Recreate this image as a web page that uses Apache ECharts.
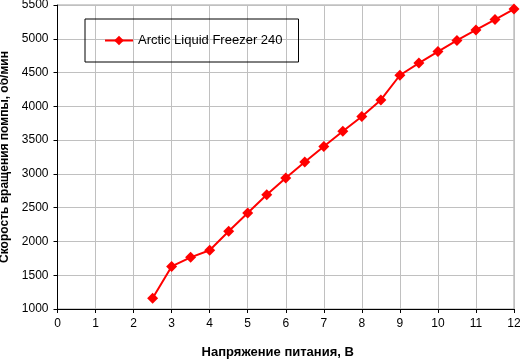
<!DOCTYPE html>
<html><head><meta charset="utf-8">
<script src="https://cdn.jsdelivr.net/npm/echarts@6/dist/echarts.min.js"></script>
<style>html,body{margin:0;padding:0;background:#fff}#c{width:520px;height:362px}</style>
</head><body><div id="c"></div>
<script>
const voltage = [2.5,3,3.5,4,4.5,5,5.5,6,6.5,7,7.5,8,8.5,9,9.5,10,10.5,11,11.5,12];
const rpm = [1160,1630,1765,1870,2150,2420,2690,2940,3175,3405,3630,3850,4095,4460,4640,4810,4975,5130,5285,5440];
const seriesName = 'Arctic Liquid Freezer 240';
const xTitle = 'Напряжение питания, В';
const yTitle = 'Скорость вращения помпы, об/мин';
const font = '"Liberation Sans", Arial, sans-serif';
const chart = echarts.init(document.getElementById('c'), null, {renderer:'canvas'});
chart.setOption({
  animation:false,
  grid:{left:57.5,right:6,top:5,bottom:53,containLabel:false,outerBoundsMode:'none',show:true,borderColor:'#a0a0a0',borderWidth:1},
  legend:{show:true,left:85,top:19,orient:'horizontal',padding:[15,16,15,19],borderColor:'#000',borderWidth:1,
    itemWidth:28,itemHeight:12,itemGap:3,textStyle:{fontFamily:font,fontSize:13,color:'#000'},data:[seriesName]},
  xAxis:{type:'value',min:0,max:12,interval:1,name:xTitle,nameLocation:'middle',nameGap:37,
    nameTextStyle:{fontFamily:font,fontSize:13,fontWeight:'bold',color:'#000',padding:[0,16,0,0]},
    axisLine:{show:true,onZero:false,lineStyle:{color:'#000',width:1}},
    axisTick:{show:true,length:4,lineStyle:{color:'#000'}},
    axisLabel:{fontFamily:font,fontSize:12,color:'#000',margin:9},
    splitLine:{show:true,lineStyle:{color:'#c0c0c0',width:1}}},
  yAxis:{type:'value',min:1000,max:5500,interval:500,name:yTitle,nameLocation:'middle',nameGap:46,
    nameTextStyle:{fontFamily:font,fontSize:12,fontWeight:'bold',color:'#000'},
    axisLine:{show:true,onZero:false,lineStyle:{color:'#000',width:1}},
    axisTick:{show:true,length:4,lineStyle:{color:'#000'}},
    axisLabel:{fontFamily:font,fontSize:12,color:'#000',margin:9,formatter:v=>String(v)},
    splitLine:{show:true,lineStyle:{color:'#c0c0c0',width:1}}},
  series:[{name:seriesName,type:'line',data:voltage.map((v,i)=>[v,rpm[i]]),
    symbol:'diamond',symbolSize:11,color:'#ff0000',lineStyle:{color:'#ff0000',width:2},
    itemStyle:{color:'#ff0000'}}]
});
</script></body></html>
